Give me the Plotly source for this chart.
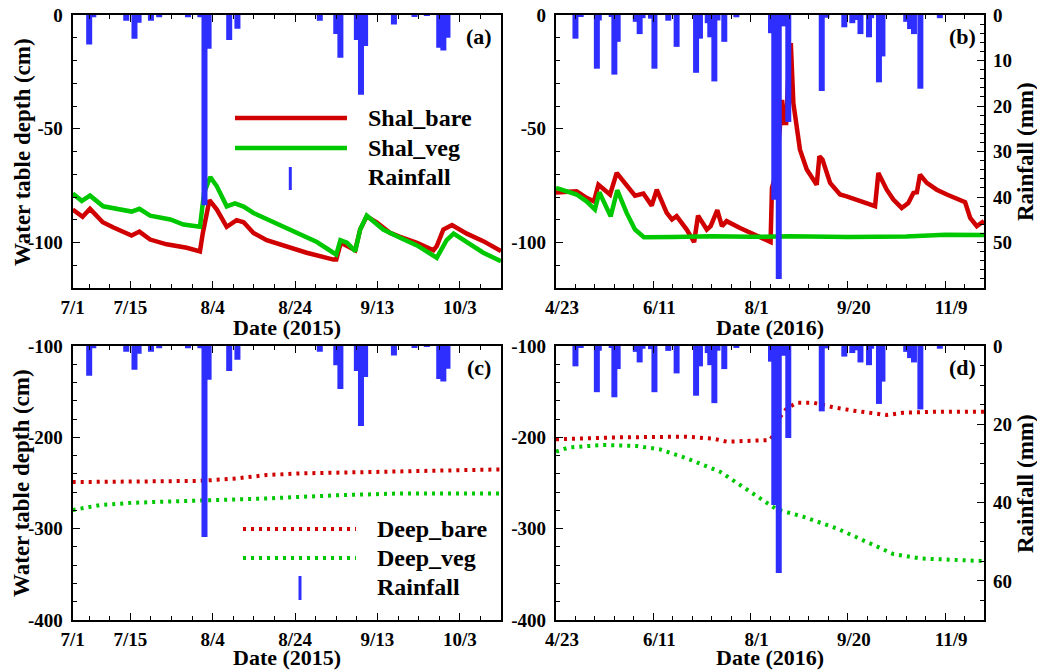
import plotly.graph_objects as go

# ---------------- data ----------------
START_2015 = "2015-07-01"   # day 0 of panels (a),(c)
START_2016 = "2016-04-23"   # day 0 of panels (b),(d)

tick_days_2015 = [0, 14, 34, 54, 74, 94]
tick_text_2015 = ["7/1", "7/15", "8/4", "8/24", "9/13", "10/3"]
tick_days_2016 = [0, 50, 100, 150, 200]
tick_text_2016 = ["4/23", "6/11", "8/1", "9/20", "11/9"]

rain2015_day = [4, 5, 13, 15, 16, 19, 21, 28, 31, 32, 33, 38, 40, 60, 64, 65, 69, 70, 71,
                78, 83, 86, 89, 90, 91]
rain2015_mm = [6.5, 0.5, 1.25, 5.2, 1.7, 1.25, 0.5, 0.5, 0.5, 41.8, 7.4, 5.5, 3.0, 1.25,
               4.2, 9.4, 5.5, 17.5, 6.8, 2.1, 0.4, 0.2, 7.2, 7.8, 5.0]

rain2016_day = [10, 12.7, 21, 22, 28.6, 30, 31.7, 41, 43, 44.5, 48.8, 50.6, 57.7, 62, 72, 74,
                78, 79.3, 81.4, 83, 86.5, 92.7, 110.5, 112.2, 114.5, 116, 117, 119.4, 136.6,
                139, 148.2, 152.3, 154, 156.5, 160.9, 162, 166, 167.8, 180, 182, 184, 187.3,
                197.3]
rain2016_mm = [5.2, 0.4, 11.8, 1.2, 0.4, 13.1, 5.9, 1.5, 4.2, 0.7, 0.8, 11.8, 1.25, 7.0, 12.7,
               5.2, 1.8, 4.9, 14.6, 1.2, 5.9, 0.5, 4.0, 40.6, 58.0, 2.1, 2.5, 23.5, 16.7, 0.6,
               2.7, 1.8, 1.1, 4.2, 4.9, 0.7, 14.8, 9.1, 1.5, 3.1, 4.2, 16.2, 0.7]

shal_bare_2015_day = [0, 2.4, 4.2, 7.3, 9.9, 14.3, 16.2, 18.8, 22.8, 27.7, 30.9, 31.6, 33.2, 35,
                      37.4, 39.8, 41.5, 43.9, 47.1, 52, 56.8, 63.3, 64, 65.1, 66.6, 68.6, 69.8,
                      71.4, 73.8, 77.1, 79.5, 83.6, 87.6, 88.4, 90, 92.1, 95.7, 99.7, 104]
shal_bare_2015 = [-85.5, -88.7, -85.2, -91.1, -93.4, -96.9, -95.2, -98.7, -100.8, -102.3,
                  -103.9, -95.8, -81.4, -85.5, -93.1, -90.2, -91.1, -95.8, -99.0, -101.9,
                  -104.5, -107.5, -107.5, -100.1, -101.6, -103.4, -94.3, -88.5, -91.1, -95.8,
                  -97.5, -100.1, -103.4, -101.6, -94.3, -92.3, -96.1, -99.4, -103.8]

shal_veg_2015_day = [0, 2.2, 4.2, 7.4, 14.3, 16.2, 18.8, 23.7, 26.9, 30.9, 31.9, 33.4, 35, 37.4,
                     39.4, 41.5, 43.9, 48.7, 53.6, 59.3, 63.3, 64, 65, 66.6, 68.6, 69.8, 71.4,
                     75.4, 79.5, 83.6, 88.4, 90.8, 92.5, 95.7, 99.7, 104]
shal_veg_2015 = [-78.5, -81.7, -79.4, -84.1, -86.4, -85.2, -88.2, -89.9, -92.1, -93.1, -78.2,
                 -71.2, -75.3, -84.1, -82.8, -84.2, -87.0, -91.1, -95.0, -99.8, -104.5, -105.3,
                 -99.0, -100.1, -103.8, -94.3, -88.2, -94.3, -97.9, -101.3, -106.7, -99.0,
                 -96.1, -99.8, -104.5, -108.2]

shal_bare_2016_day = [0, 10.6, 15.7, 19.5, 21.8, 27.8, 31.2, 36.3, 40.6, 44.9, 49.2, 51.8, 56.9,
                      59.6, 62, 67.2, 71, 73, 77.5, 79.5, 82.9, 85.3, 87.7, 94.6, 101.5, 108.3,
                      110.3, 111, 113, 115, 116.2, 117, 118.3, 119.5, 120.7, 122, 125.4, 128.9,
                      134, 135.4, 137, 140.9, 146, 149.4, 156.3, 161.4, 164, 165.7, 170, 173.4,
                      177.7, 181.1, 183.7, 185.5, 187.1, 190.6, 195.7, 200.9, 206, 210.3, 212.9,
                      216.3, 220]
shal_bare_2016 = [-78, -77.5, -80.4, -81.9, -74.6, -78.9, -69.4, -74.6, -79.4, -78.5, -83.8,
                  -76.8, -87.0, -89.9, -88.4, -94.3, -99.8, -88.2, -94.3, -92.8, -85.8, -92.8,
                  -90.6, -93.6, -96.5, -99.4, -99.8, -76, -70, -50, -37.3, -47.5, -47.5, -25,
                  -12.4, -38.7, -59.2, -67.9, -74.6, -62.1, -63.6, -73.8, -78.9, -79.7, -81.9,
                  -83.3, -84.0, -69.4, -76.8, -81.1, -84.8, -82.6, -78.2, -77.9, -70.2, -73.8,
                  -76.8, -78.9, -80.8, -82.3, -89.2, -92.8, -90.6]

shal_veg_2016_day = [0, 10.6, 15.7, 20, 22.3, 28.1, 31.5, 36.3, 40.6, 45.2, 60, 80, 100, 120,
                     150, 180, 200, 220]
shal_veg_2016 = [-76, -78.9, -81.9, -85.5, -77.9, -88.5, -77.0, -87.0, -94.3, -97.7, -97.6,
                 -97.3, -97.5, -97.3, -97.6, -97.4, -96.6, -96.7]

deep_bare_2015_day = [0, 30.9, 39, 47.1, 55.2, 71.4, 87.6, 104]
deep_bare_2015 = [-249, -247.7, -245.3, -241.3, -239.5, -237.7, -236.2, -235.1]
deep_veg_2015_day = [0, 6.6, 14.7, 30.9, 47.1, 63.3, 79.5, 104]
deep_veg_2015 = [-279.6, -274.2, -271.6, -269.8, -266.9, -263.6, -261.4, -261.4]

deep_bare_2016_day = [0, 32.9, 67.2, 81, 87.8, 110, 113.5, 115, 118.6, 123.7, 132.3, 142.6,
                      152.9, 170, 178.6, 195.7, 220]
deep_bare_2016 = [-202.2, -200, -199.3, -201.5, -204.8, -203, -192, -178.1, -168.3, -162.1,
                  -162.1, -167.2, -170.8, -175.6, -173, -172, -172]
deep_veg_2016_day = [0, 6.7, 24.3, 41.5, 53.5, 67.2, 84.3, 101.5, 113.5, 127.2, 144.3, 161.4,
                     173.4, 187.1, 220]
deep_veg_2016 = [-215.7, -211, -208.4, -209.5, -213.2, -223, -237.6, -261.3, -278.9, -287,
                 -299.7, -316.1, -327.8, -332.6, -335.5]

# ---------------- style ----------------
FONT = "Liberation Serif"
RED = "#D00000"
GREEN = "#00C800"
BLUE = "#2E2EFF"
TICKF = dict(family=FONT, size=19, color="black", weight="bold")
TITLEF = dict(family=FONT, size=22, color="black", weight="bold")

W, H = 1037, 670
def px_x(p): return p / W
def px_y(p): return 1 - p / H

XD_L = [px_x(72.7), px_x(501)]
XD_R = [px_x(556), px_x(984)]
YD_T = [px_y(288), px_y(15)]
YD_B = [px_y(620), px_y(346)]

fig = go.Figure()

def lines(xref, yref, d1, v1, d2, v2, name1, name2, dash):
    w = 4.5 if dash == "solid" else 4
    fig.add_trace(go.Scatter(x=d1, y=v1, mode="lines", name=name1, xaxis=xref, yaxis=yref,
                             line=dict(color=RED, width=w, dash=dash), showlegend=False))
    fig.add_trace(go.Scatter(x=d2, y=v2, mode="lines", name=name2, xaxis=xref, yaxis=yref,
                             line=dict(color=GREEN, width=w, dash=dash), showlegend=False))

def bars(xref, yref, days, mm, width):
    fig.add_trace(go.Bar(x=days, y=mm, width=width, xaxis=xref, yaxis=yref, name="Rainfall",
                         marker=dict(color=BLUE, line=dict(width=0)), showlegend=False))

DOT = "3px,5px"
lines("x", "y", shal_bare_2015_day, shal_bare_2015, shal_veg_2015_day, shal_veg_2015,
      "Shal_bare", "Shal_veg", "solid")
lines("x2", "y2", shal_bare_2016_day, shal_bare_2016, shal_veg_2016_day, shal_veg_2016,
      "Shal_bare", "Shal_veg", "solid")
lines("x3", "y3", deep_bare_2015_day, deep_bare_2015, deep_veg_2015_day, deep_veg_2015,
      "Deep_bare", "Deep_veg", DOT)
lines("x4", "y4", deep_bare_2016_day, deep_bare_2016, deep_veg_2016_day, deep_veg_2016,
      "Deep_bare", "Deep_veg", DOT)
bars("x", "y5", rain2015_day, rain2015_mm, 1.46)
bars("x2", "y6", rain2016_day, rain2016_mm, 3.08)
bars("x3", "y7", rain2015_day, rain2015_mm, 1.46)
bars("x4", "y8", rain2016_day, rain2016_mm, 3.08)

def rng(a, b, s):
    out = []
    v = a
    while v <= b + 1e-9:
        out.append(round(v, 6))
        v += s
    return out

common = dict(showline=True, linewidth=2.2, linecolor="black", ticks="inside", ticklen=7,
              tickwidth=1.3, tickcolor="black", showgrid=False, zeroline=False, tickfont=TICKF,
              automargin=False)

def xaxis(domain, anchor, tv, tt, minor, rng_, shift=0):
    return dict(common, domain=domain, anchor=anchor, range=rng_, mirror="ticks",
                tickmode="array", tickvals=tv, ticktext=tt, ticklabelshift=shift,
                ticklabelstandoff=1,
                minor=dict(ticks="inside", ticklen=4, tickwidth=1, tickcolor="black",
                           tickmode="array", tickvals=minor))

minor2015 = [v for v in rng(4, 104, 5) if v not in tick_days_2015]
minor2016 = [v for v in rng(10, 220, 10) if v not in tick_days_2016]

fig.update_layout(
    xaxis=xaxis(XD_L, "y", tick_days_2015, tick_text_2015, minor2015, [0, 104]),
    xaxis2=xaxis(XD_R, "y2", tick_days_2016, tick_text_2016, minor2016, [0, 220], 6),
    xaxis3=xaxis(XD_L, "y3", tick_days_2015, tick_text_2015, minor2015, [0, 104]),
    xaxis4=xaxis(XD_R, "y4", tick_days_2016, tick_text_2016, minor2016, [0, 220], 6),
)

def depth_axis(domain, anchor, rng_, major, minor_step):
    mv = [v for v in rng(rng_[0], rng_[1], minor_step) if v not in major]
    return dict(common, domain=domain, anchor=anchor, range=rng_, mirror=True,
                tickmode="array", tickvals=major, ticktext=[str(int(v)) for v in major],
                ticklabelstandoff=4,
                minor=dict(ticks="inside", ticklen=4, tickwidth=1, tickcolor="black",
                           tickmode="array", tickvals=mv))

fig.update_layout(
    yaxis=depth_axis(YD_T, "x", [-120, 0], [0, -50, -100], 10),
    yaxis2=depth_axis(YD_T, "x2", [-120, 0], [0, -50, -100], 10),
    yaxis3=depth_axis(YD_B, "x3", [-400, -100], [-100, -200, -300, -400], 20),
    yaxis4=depth_axis(YD_B, "x4", [-400, -100], [-100, -200, -300, -400], 20),
)

def rain_axis(overlay, anchor, top, major_step, minor_step, visible):
    major = rng(0, top, major_step) if visible else []
    mv = [v for v in rng(0, top, minor_step) if v not in major]
    d = dict(common, overlaying=overlay, anchor=anchor, side="right", range=[top, 0],
             visible=visible)
    if visible:
        d.update(tickmode="array", tickvals=[v for v in major if v < top],
                 ticktext=[str(int(v)) for v in major if v < top], ticklabelstandoff=3,
                 minor=dict(ticks="inside", ticklen=4, tickwidth=1, tickcolor="black",
                            tickmode="array", tickvals=mv))
    return d

fig.update_layout(
    yaxis5=rain_axis("y", "x", 60, 10, 2, False),
    yaxis6=rain_axis("y2", "x2", 60, 10, 2, True),
    yaxis7=rain_axis("y3", "x3", 60, 10, 2, False),
    yaxis8=rain_axis("y4", "x4", 70, 20, 5, True),
)

# ---------------- titles, panel labels & legends ----------------
ann = []
def text(t, x, y, xa="center", ya="middle", angle=0, font=TITLEF):
    ann.append(dict(text=t, x=px_x(x), y=px_y(y), xref="paper", yref="paper", xanchor=xa,
                    yanchor=ya, showarrow=False, textangle=angle, font=font))

text("Date (2015)", 287, 327)
text("Date (2016)", 770, 327)
text("Date (2015)", 287, 657)
text("Date (2016)", 770, 657)
TITLEY = dict(family=FONT, size=23, color="black", weight="bold")
text("Water table depth (cm)", 22, 152, angle=-90, font=TITLEY)
text("Water table depth (cm)", 22, 483, angle=-90, font=TITLEY)
text("Rainfall (mm)", 1025, 152, angle=-90, font=TITLEY)
text("Rainfall (mm)", 1025, 484, angle=-90, font=TITLEY)

LABF = dict(family=FONT, size=22, color="black", weight="bold")
for lab, xr, yc in [("(a)", 494, 36), ("(b)", 978, 36), ("(c)", 493, 367), ("(d)", 978, 367)]:
    text(lab, xr, yc, xa="right", font=LABF)

LEGF = dict(family=FONT, size=24, color="black", weight="bold")
shapes = []
def legend(names, x0, x1, xt, ys, xbar, bar_y0, bar_y1, dash):
    for name, y, col in zip(names, ys, [RED, GREEN, None]):
        text(name, xt, y, xa="left", font=LEGF)
        if col:
            shapes.append(dict(type="line", xref="paper", yref="paper", x0=px_x(x0), x1=px_x(x1),
                               y0=px_y(y), y1=px_y(y),
                               line=dict(color=col, width=4.5 if dash == "solid" else 4,
                                         dash=dash)))
    shapes.append(dict(type="rect", xref="paper", yref="paper", x0=px_x(xbar - 1.5),
                       x1=px_x(xbar + 1.5), y0=px_y(bar_y1), y1=px_y(bar_y0),
                       fillcolor=BLUE, line=dict(width=0)))

legend(["Shal_bare", "Shal_veg", "Rainfall"], 235, 347, 366, [118, 148, 177], 290.3, 167, 190,
       "solid")
legend(["Deep_bare", "Deep_veg", "Rainfall"], 243, 356, 375, [529, 558, 587], 300, 576, 600, DOT)

fig.update_layout(
    template="none",
    width=W, height=H, margin=dict(l=0, r=0, t=0, b=0, autoexpand=False),
    plot_bgcolor="white", paper_bgcolor="white", barmode="overlay",
    annotations=ann, shapes=shapes, showlegend=False,
    font=dict(family=FONT, color="black"),
)

fig.write_html("out.html", config={"displayModeBar": False},
               post_script="document.body.style.margin='0px';")
